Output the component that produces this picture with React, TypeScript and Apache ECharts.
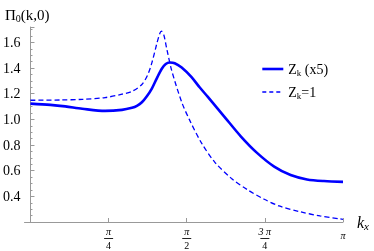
import React, { useEffect, useRef } from 'react';
import * as echarts from 'echarts';

// Z_k (x5) — solid curve
const solidK = [0, 0.2, 0.35, 0.52, 0.75, 0.92, 1.02, 1.07, 1.12, 1.17, 1.22, 1.27, 1.32, 1.36, 1.40, 1.45, 1.52, 1.617, 1.70, 1.783, 1.95, 2.116, 2.28, 2.45, 2.615, 2.78, 2.95, Math.PI];
const solidV = [1.123, 1.113, 1.101, 1.083, 1.066, 1.074, 1.09, 1.105, 1.133, 1.18, 1.24, 1.32, 1.395, 1.432, 1.443, 1.438, 1.404, 1.331, 1.25, 1.175, 1.02, 0.866, 0.737, 0.632, 0.566, 0.532, 0.519, 0.513];

// Z_k = 1 — dashed curve
const dashK = [0, 0.3, 0.52, 0.75, 0.92, 1.02, 1.12, 1.18, 1.22, 1.27, 1.30, 1.317, 1.34, 1.37, 1.42, 1.52, 1.60, 1.72, 1.85, 2.02, 2.18, 2.35, 2.50, 2.71, 2.91, Math.PI];
const dashV = [1.149, 1.151, 1.156, 1.17, 1.196, 1.218, 1.272, 1.35, 1.44, 1.59, 1.67, 1.688, 1.66, 1.55, 1.38, 1.135, 0.994, 0.815, 0.669, 0.54, 0.452, 0.377, 0.325, 0.28, 0.247, 0.221];

const seriesNames = ['Zk (x5)', 'Zk=1'];
const legendLabels = ['{a|Z}{s|k}{a| (x5)}', '{a|Z}{s|k}{a|=1}'];

const yTickLabels = ['0.4', '0.6', '0.8', '1.0', '1.2', '1.4', '1.6'];
const xTickValues = [Math.PI / 4, Math.PI / 2, (3 * Math.PI) / 4, Math.PI];
const xNumerators = ['π', 'π', '3 π', 'π'];
const xDenominators = ['4', '2', '4', ''];

const SERIF = '"Liberation Serif", "DejaVu Serif", serif';
const BLUE = '#0000ff';
const AXIS = '#999999';

export default function App() {
  const ref = useRef<HTMLDivElement>(null);
  useEffect(() => {
    if (!ref.current) return;
    const chart = echarts.init(ref.current, null, { renderer: 'svg' });
    const solidData = solidK.map((k, i) => [k, solidV[i]]);
    const dashData = dashK.map((k, i) => [k, dashV[i]]);
    const txt = { fontFamily: SERIF, fontSize: 14, color: '#000', fontWeight: 'normal' as const };
    const sub = { fontFamily: SERIF, fontSize: 9, color: '#000', fontWeight: 'normal' as const, padding: [7, 0, 0, 0] };
    const ttl = { fontFamily: SERIF, fontSize: 15, color: '#000', fontWeight: 'normal' as const };
    const tsub = { fontFamily: SERIF, fontSize: 10, color: '#000', fontWeight: 'normal' as const, padding: [7, 0, 0, 0] };
    chart.setOption({
      animation: false,
      grid: { left: 22, right: 31, top: 27, bottom: 29, containLabel: false },
      title: {
        text: '{a|Π}{s|0}{a|(k,0)}',
        left: 0,
        top: 1,
        textStyle: { fontWeight: 'normal', rich: { a: ttl, s: tsub } },
      },
      legend: {
        orient: 'vertical',
        left: 256,
        top: 57,
        itemWidth: 21,
        itemHeight: 14,
        itemGap: 8,
        data: [
          {
            name: seriesNames[0],
            itemStyle: { color: 'rgba(0,0,0,0)', borderWidth: 0 },
            lineStyle: { color: BLUE, width: 2.6 },
          },
          {
            name: seriesNames[1],
            itemStyle: { color: 'rgba(0,0,0,0)', borderWidth: 0 },
            lineStyle: { color: BLUE, width: 1.3, type: [4, 3] },
          },
        ],
        formatter: (name: string) => legendLabels[seriesNames.indexOf(name)],
        textStyle: { rich: { a: txt, s: sub } },
      },
      xAxis: {
        type: 'value',
        min: -0.06,
        max: Math.PI,
        name: '{k|k}{x|x}',
        nameLocation: 'end',
        nameGap: 14,
        nameTextStyle: {
          rich: {
            k: { fontFamily: SERIF, fontSize: 16, fontStyle: 'italic', color: '#000' },
            x: { fontFamily: SERIF, fontSize: 11, fontStyle: 'italic', color: '#000', padding: [8, 0, 0, 0] },
          },
        },
        splitLine: { show: false },
        axisLine: { onZero: false, lineStyle: { color: AXIS, width: 1 } },
        axisTick: {
          inside: true,
          length: 4,
          customValues: xTickValues,
          lineStyle: { color: AXIS },
        },
        axisLabel: {
          margin: 4,
          customValues: xTickValues,
          formatter: (v: number) => {
            let i = -1;
            xTickValues.forEach((t, j) => {
              if (Math.abs(t - v) < 1e-6) i = j;
            });
            if (i < 0) return '';
            const num = xNumerators[i];
            const den = xDenominators[i];
            if (!den) return '{p|' + num + '}';
            return '{n|' + num + '}\n{b| }\n{d|' + den + '}';
          },
          rich: {
            p: { fontFamily: SERIF, fontSize: 10, fontStyle: 'italic', color: '#000', lineHeight: 12, padding: [6, 0, 0, 0], align: 'center' },
            n: { fontFamily: SERIF, fontSize: 10, fontStyle: 'italic', color: '#000', lineHeight: 11, align: 'center' },
            b: { fontSize: 1, lineHeight: 3, height: 1, width: 9, backgroundColor: '#222', align: 'center' },
            d: { fontFamily: SERIF, fontSize: 10, color: '#000', lineHeight: 11, align: 'center' },
          },
        },
      },
      yAxis: {
        type: 'value',
        min: 0.2,
        max: 1.72,
        interval: 0.2,
        splitLine: { show: false },
        axisLine: { onZero: true, lineStyle: { color: AXIS, width: 1 } },
        axisTick: { inside: true, length: 4, lineStyle: { color: AXIS } },
        minorTick: { show: true, splitNumber: 4, length: 2, lineStyle: { color: AXIS } },
        axisLabel: {
          margin: 4,
          fontFamily: SERIF,
          fontSize: 14,
          color: '#000',
          formatter: (v: number) => {
            const s = v.toFixed(1);
            return yTickLabels.indexOf(s) >= 0 && Math.abs(v - parseFloat(s)) < 1e-6 ? s : '';
          },
        },
      },
      series: [
        {
          name: seriesNames[0],
          type: 'line',
          data: solidData,
          symbol: 'none',
          smooth: 0.3,
          lineStyle: { color: BLUE, width: 2.6 },
          itemStyle: { color: BLUE },
        },
        {
          name: seriesNames[1],
          type: 'line',
          data: dashData,
          symbol: 'none',
          smooth: 0.3,
          lineStyle: { color: BLUE, width: 1.3, type: [5, 3] },
          itemStyle: { color: BLUE },
        },
      ],
    });
    return () => chart.dispose();
  }, []);
  return <div ref={ref} style={{ position: 'fixed', left: 0, top: 0, width: 374, height: 251 }} />;
}
